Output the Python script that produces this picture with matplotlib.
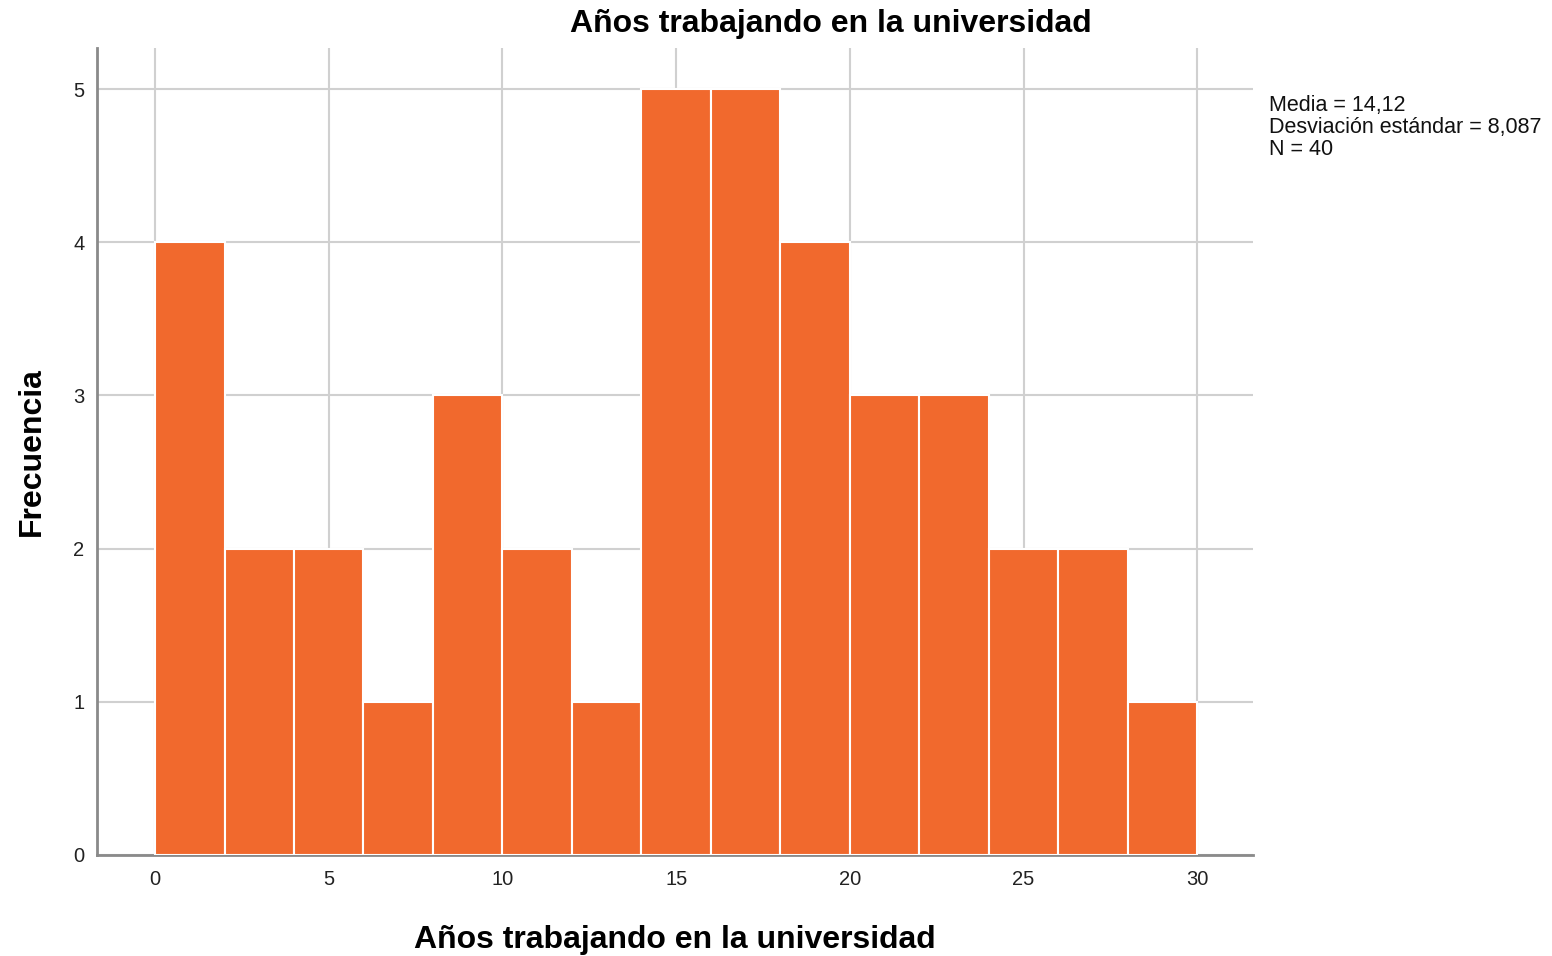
import numpy as np
import matplotlib.pyplot as plt

# datos del histograma (intervalos de 2 años)
bin_edges = np.arange(0, 32, 2)
frecuencias = [4, 2, 2, 1, 3, 2, 1, 5, 5, 4, 3, 3, 2, 2, 1]
x_ticks = [0, 5, 10, 15, 20, 25, 30]
y_ticks = [0, 1, 2, 3, 4, 5]
stats_txt = "Media = 14,12\nDesviación estándar = 8,087\nN = 40"
titulo = "Años trabajando en la universidad"

plt.rcParams['font.family'] = ['Liberation Sans', 'DejaVu Sans']

fig = plt.figure(figsize=(15.52, 9.56), dpi=100)
ax = fig.add_axes([0.0625, 0.1057, 0.745, 0.8443])

ax.bar(bin_edges[:-1], frecuencias, width=np.diff(bin_edges), align='edge',
       color='#F1692D', edgecolor='white', linewidth=1.5, zorder=3)

ax.set_xlim(-1.67, 31.61)
ax.set_ylim(0, 5.27)
ax.set_xticks(x_ticks)
ax.set_yticks(y_ticks)
ax.tick_params(length=0, labelsize=14.5, colors='#222222')
ax.tick_params(axis='x', pad=11)
ax.tick_params(axis='y', pad=9)
ax.grid(True, color='#d0d0d0', linewidth=1.5, zorder=0)

for s in ['top', 'right']:
    ax.spines[s].set_visible(False)
for s in ['left', 'bottom']:
    ax.spines[s].set_color('#8a8a8a')
    ax.spines[s].set_linewidth(2)

ax.set_xlabel(titulo, fontsize=23, fontweight='bold', labelpad=26)
ax.set_ylabel("Frecuencia", fontsize=23, fontweight='bold', labelpad=19)
fig.text(0.535, 1 - 24 / 956, titulo, fontsize=23, fontweight='bold',
         ha='center', va='center')

fig.text(1269 / 1552, 1 - 95 / 956, stats_txt, fontsize=15.5, va='top',
         ha='left', linespacing=1.06, color='#111111')

plt.savefig("out.png", dpi=100)
